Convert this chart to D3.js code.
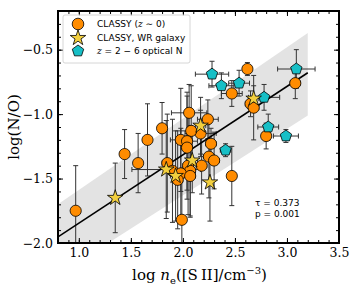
<!DOCTYPE html>
<html>
<head>
<meta charset="utf-8">
<script src="https://cdn.jsdelivr.net/npm/d3@7"></script>
<style>
  body { margin: 0; background: #fff; }
  svg { display: block; }
  .tick text { font-family: "DejaVu Serif", serif; font-size: 12.5px; fill: #000; }
</style>
</head>
<body>
<script>
// CLASSY (z~0) galaxies
const classyX  = [0.97, 1.44, 1.57, 1.66, 1.80, 2.06, 2.24, 2.17, 2.08, 1.98, 2.04, 2.04, 2.27, 2.47, 2.47, 2.05, 2.07, 2.18, 2.25, 2.30, 1.85, 1.90, 1.98, 1.95, 2.07, 1.99, 2.62, 2.65, 2.68, 3.08, 2.80];
const classyY  = [-1.75, -1.31, -1.38, -1.20, -1.11, -0.99, -1.04, -1.15, -1.13, -1.20, -1.21, -1.26, -1.23, -1.48, -0.84, -1.40, -1.44, -1.40, -1.33, -1.36, -1.38, -1.44, -1.46, -1.51, -1.48, -1.82, -0.65, -0.92, -0.95, -0.76, -1.17];
const classyXe = [0.00, 0.00, 0.00, 0.00, 0.00, 0.17, 0.10, 0.15, 0.10, 0.10, 0.10, 0.05, 0.05, 0.00, 0.10, 0.05, 0.05, 0.05, 0.05, 0.05, 0.05, 0.05, 0.05, 0.05, 0.05, 0.00, 0.00, 0.05, 0.05, 0.05, 0.00];
const classyYe = [0.35, 0.19, 0.23, 0.28, 0.20, 0.22, 0.15, 0.18, 0.35, 0.40, 0.38, 0.40, 0.12, 0.23, 0.10, 0.38, 0.35, 0.22, 0.32, 0.22, 0.38, 0.40, 0.35, 0.38, 0.32, 0.40, 0.05, 0.10, 0.25, 0.12, 0.10];

// CLASSY, WR galaxies
const wrX  = [1.35, 1.84, 2.17, 2.09, 1.93, 2.26, 2.68];
const wrY  = [-1.65, -1.43, -1.09, -1.36, -1.48, -1.53, -0.88];
const wrXe = [0.00, 0.33, 0.05, 0.05, 0.05, 0.00, 0.05];
const wrYe = [0.27, 0.38, 0.22, 0.25, 0.35, 0.30, 0.10];

// z = 2-6 optical N
const hizX  = [2.28, 2.37, 2.54, 2.78, 3.09, 2.82, 2.99, 2.41];
const hizY  = [-0.69, -0.78, -0.76, -0.87, -0.65, -1.10, -1.17, -1.28];
const hizXe = [0.16, 0.12, 0.10, 0.15, 0.18, 0.10, 0.12, 0.05];
const hizYe = [0.10, 0.10, 0.10, 0.10, 0.15, 0.10, 0.05, 0.05];

// fit and shaded band
const fitX = [0.8, 3.2];
const fitY = [-1.953, -0.679];
const bandHi = [-1.70, -0.37];
const bandLo = [-2.25, -1.01];

const xMajor = [1.0, 1.5, 2.0, 2.5, 3.0, 3.5];
const yMajor = [-2.0, -1.5, -1.0, -0.5];
const statLines = ["τ = 0.373", "p = 0.001"];

const W = 350, H = 296;
const L = 58, R = 339, T = 11, B = 243;

const svg = d3.select("body").append("svg").attr("width", W).attr("height", H);

const x = d3.scaleLinear().domain([0.8, 3.5]).range([L, R]);
const y = d3.scaleLinear().domain([-2.0, -0.2]).range([B, T]);

svg.append("defs").append("clipPath").attr("id", "clip")
    .append("rect").attr("x", L).attr("y", T).attr("width", R - L).attr("height", B - T);

const plot = svg.append("g").attr("clip-path", "url(#clip)");

// band
const bandPts = fitX.map((v, i) => [v, bandHi[i]]).concat(fitX.map((v, i) => [v, bandLo[i]]).reverse());
plot.append("path")
    .attr("d", d3.line().x(d => x(d[0])).y(d => y(d[1]))(bandPts) + "Z")
    .attr("fill", "#e3e3e3");

function errbars(xs, ys, xe, ye) {
    const g = plot.append("g").attr("stroke", "#333").attr("stroke-width", 1).attr("fill", "none");
    const cap = 2.5;
    xs.forEach((v, i) => {
        const cx = x(v), cy = y(ys[i]);
        if (ye[i] > 0) {
            const y0 = y(ys[i] - ye[i]), y1 = y(ys[i] + ye[i]);
            g.append("line").attr("x1", cx).attr("x2", cx).attr("y1", y0).attr("y2", y1);
            g.append("line").attr("x1", cx - cap).attr("x2", cx + cap).attr("y1", y0).attr("y2", y0);
            g.append("line").attr("x1", cx - cap).attr("x2", cx + cap).attr("y1", y1).attr("y2", y1);
        }
        if (xe[i] > 0) {
            const x0 = x(v - xe[i]), x1 = x(v + xe[i]);
            g.append("line").attr("x1", x0).attr("x2", x1).attr("y1", cy).attr("y2", cy);
            g.append("line").attr("x1", x0).attr("x2", x0).attr("y1", cy - cap).attr("y2", cy + cap);
            g.append("line").attr("x1", x1).attr("x2", x1).attr("y1", cy - cap).attr("y2", cy + cap);
        }
    });
}
errbars(classyX, classyY, classyXe, classyYe);
errbars(wrX, wrY, wrXe, wrYe);
errbars(hizX, hizY, hizXe, hizYe);

// fit line
plot.append("path")
    .attr("d", d3.line().x(d => x(d[0])).y(d => y(d[1]))(fitX.map((v, i) => [v, fitY[i]])))
    .attr("stroke", "#000").attr("stroke-width", 1.6).attr("fill", "none");

const orange = "#ff8c00", gold = "#f2cf3e", cyan = "#17bfc6";
const starPath = d3.symbol().type(d3.symbolStar).size(75)();
function pentagon(r) {
    const pts = d3.range(5).map(k => {
        const a = -Math.PI / 2 + k * 2 * Math.PI / 5;
        return [r * Math.cos(a), r * Math.sin(a)];
    });
    return d3.line()(pts) + "Z";
}
const pentPath = pentagon(6);

plot.append("g").selectAll("circle").data(classyX).join("circle")
    .attr("cx", d => x(d)).attr("cy", (d, i) => y(classyY[i])).attr("r", 5.6)
    .attr("fill", orange).attr("stroke", "#000").attr("stroke-width", 0.8);

plot.append("g").selectAll("path").data(hizX).join("path")
    .attr("d", pentPath)
    .attr("transform", (d, i) => `translate(${x(d)},${y(hizY[i])})`)
    .attr("fill", cyan).attr("stroke", "#000").attr("stroke-width", 0.8);

plot.append("g").selectAll("path").data(wrX).join("path")
    .attr("d", starPath)
    .attr("transform", (d, i) => `translate(${x(d)},${y(wrY[i])})`)
    .attr("fill", gold).attr("stroke", "#000").attr("stroke-width", 0.8);

// axes
const fmt = d3.format(".1f");
const xMinor = d3.range(8, 36).map(v => v / 10);
const yMinor = d3.range(-20, -1).map(v => v / 10);

function addAxis(axisFn, scale, pos, major, minor, labels) {
    const g1 = svg.append("g").attr("transform", pos)
        .call(axisFn(scale).tickValues(minor).tickSize(-3).tickFormat(""));
    g1.select(".domain").remove();
    const g2 = svg.append("g").attr("transform", pos)
        .call(axisFn(scale).tickValues(major).tickSize(-5).tickPadding(5).tickFormat(labels ? fmt : ""));
    g2.select(".domain").remove();
    svg.selectAll(".tick line").attr("stroke", "#000").attr("stroke-width", 1);
}
addAxis(d3.axisBottom, x, `translate(0,${B})`, xMajor, xMinor, true);
addAxis(d3.axisTop, x, `translate(0,${T})`, xMajor, xMinor, false);
addAxis(d3.axisLeft, y, `translate(${L},0)`, yMajor, yMinor, true);
addAxis(d3.axisRight, y, `translate(${R},0)`, yMajor, yMinor, false);

svg.append("rect").attr("x", L).attr("y", T).attr("width", R - L).attr("height", B - T)
    .attr("fill", "none").attr("stroke", "#000").attr("stroke-width", 2);

// axis labels
const xl = svg.append("text").attr("x", (L + R) / 2 + 1).attr("y", 280)
    .attr("text-anchor", "middle").style("font-family", "DejaVu Serif, serif").style("font-size", "15px");
xl.append("tspan").text("log ");
xl.append("tspan").style("font-style", "italic").text("n");
xl.append("tspan").attr("dy", 4).style("font-size", "10px").text("e");
xl.append("tspan").attr("dy", -4).text("([S\u2009II]/cm");
xl.append("tspan").attr("dy", -6).style("font-size", "10px").text("\u22123");
xl.append("tspan").attr("dy", 6).text(")");

svg.append("text").attr("transform", `translate(19,${(T + B) / 2}) rotate(-90)`)
    .attr("text-anchor", "middle").style("font-family", "DejaVu Serif, serif").style("font-size", "15px")
    .text("log(N/O)");

// legend
const lg = svg.append("g");
lg.append("rect").attr("x", 63).attr("y", 15).attr("width", 127).attr("height", 48).attr("rx", 2)
    .attr("fill", "#fff").attr("fill-opacity", 0.8).attr("stroke", "#ccc").attr("stroke-width", 0.8);
const legY = [24, 38, 51];
lg.append("circle").attr("cx", 78).attr("cy", legY[0]).attr("r", 5.8)
    .attr("fill", orange).attr("stroke", "#000").attr("stroke-width", 0.8);
lg.append("path").attr("d", starPath).attr("transform", `translate(78,${legY[1]})`)
    .attr("fill", gold).attr("stroke", "#000").attr("stroke-width", 0.8);
lg.append("path").attr("d", pentPath).attr("transform", `translate(78,${legY[2]})`)
    .attr("fill", cyan).attr("stroke", "#000").attr("stroke-width", 0.8);

const legFont = "DejaVu Sans, sans-serif";
const t1 = lg.append("text").attr("x", 97).attr("y", legY[0] + 3).style("font-family", legFont).style("font-size", "9px");
t1.append("tspan").text("CLASSY (");
t1.append("tspan").style("font-family", "DejaVu Serif, serif").style("font-style", "italic").text("z");
t1.append("tspan").text(" ∼ 0)");
lg.append("text").attr("x", 97).attr("y", legY[1] + 3).style("font-family", legFont).style("font-size", "9px")
    .text("CLASSY, WR galaxy");
const t3 = lg.append("text").attr("x", 97).attr("y", legY[2] + 3).style("font-family", legFont).style("font-size", "9px");
t3.append("tspan").style("font-family", "DejaVu Serif, serif").style("font-style", "italic").text("z");
t3.append("tspan").text(" = 2 − 6 optical N");

// stats
svg.selectAll(".stat").data(statLines).join("text")
    .attr("x", 255).attr("y", (d, i) => 206 + i * 11)
    .style("font-family", legFont).style("font-size", "9px").text(d => d);
</script>
</body>
</html>
